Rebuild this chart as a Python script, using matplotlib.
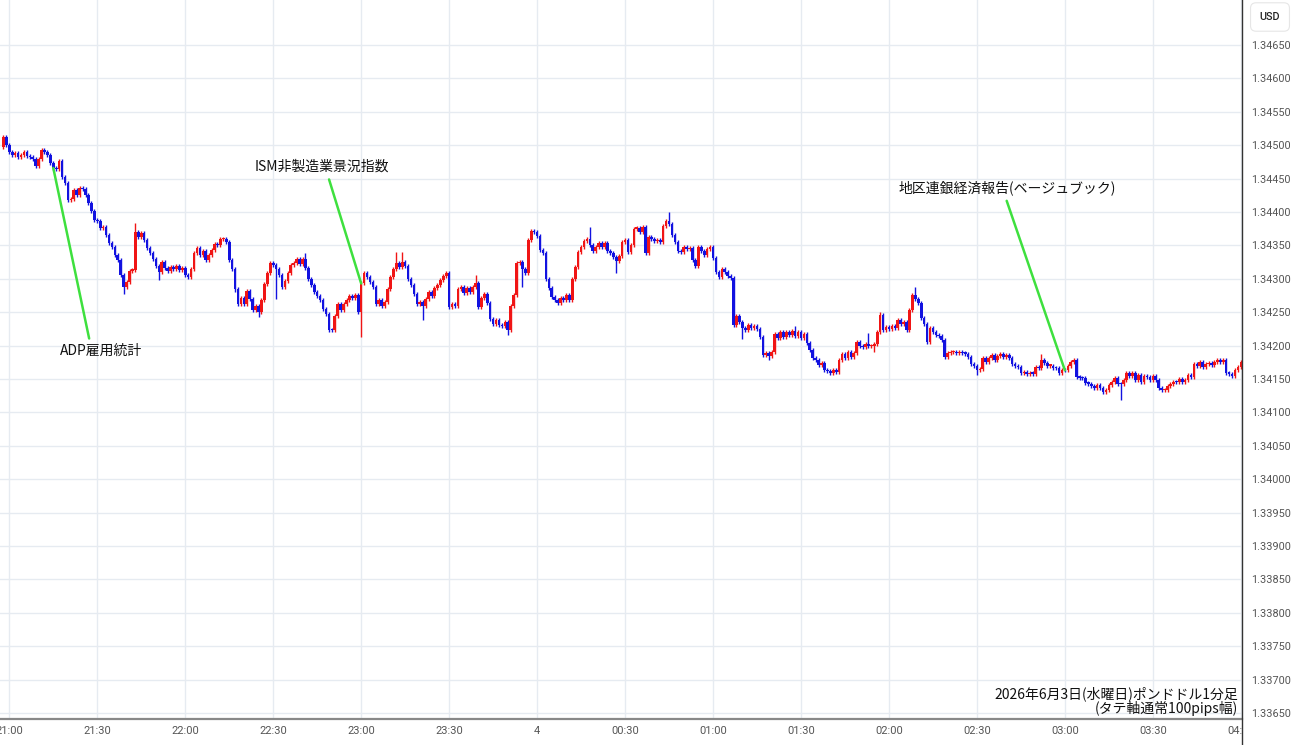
import numpy as np
import matplotlib.pyplot as plt
from matplotlib.lines import Line2D
from matplotlib.transforms import Bbox, TransformedBbox, blended_transform_factory

plt.rcParams['font.family'] = ['Noto Sans CJK JP', 'DejaVu Sans']

# GBP/USD 1-minute candles, price in pips above 1.34000
# minute 0 = 21:00, first candle 20:58
first_minute = -2
first_open = 49.8
closes = [
    51.2, 50.0, 49.0, 48.5, 48.9, 48.2, 48.6, 49.0, 48.4, 48.2,
    47.9, 46.9, 48.0, 49.3, 49.0, 48.5, 47.4, 46.6, 46.4, 47.7,
    45.2, 44.3, 41.8, 42.0, 43.3, 42.5, 43.6, 43.4, 42.6, 41.3,
    40.2, 38.8, 38.6, 37.6, 37.8, 36.5, 35.4, 34.8, 33.5, 32.8,
    30.5, 28.8, 29.5, 31.2, 31.3, 37.0, 36.2, 36.8, 35.8, 34.6,
    33.9, 33.0, 31.9, 31.0, 32.5, 31.6, 31.2, 31.8, 31.4, 31.9,
    31.3, 31.6, 30.6, 30.3, 31.5, 33.8, 34.6, 33.6, 34.2, 32.8,
    33.6, 34.3, 35.2, 35.0, 35.9, 36.0, 35.5, 32.8, 31.4, 28.4,
    26.3, 27.2, 26.2, 28.2, 27.0, 25.3, 25.9, 25.0, 26.8, 29.2,
    30.8, 32.3, 32.0, 31.5, 30.5, 28.8, 29.6, 30.8, 32.0, 32.4,
    33.0, 32.2, 33.0, 31.6, 30.0, 29.0, 28.0, 27.4, 26.8, 25.5,
    24.7, 22.4, 22.3, 24.5, 26.3, 25.4, 26.2, 26.8, 27.5, 27.2,
    27.6, 25.1, 29.3, 30.8, 30.2, 29.5, 28.8, 26.3, 26.8, 26.0,
    26.6, 28.5, 30.3, 31.5, 32.3, 31.8, 32.5, 31.9, 30.0, 29.0,
    27.8, 26.3, 26.6, 26.0, 27.0, 28.0, 27.4, 28.6, 29.1, 29.8,
    30.4, 30.8, 25.8, 26.2, 25.9, 28.5, 28.8, 27.9, 28.6, 28.0,
    28.7, 29.3, 25.8, 27.2, 27.8, 26.4, 24.0, 23.3, 23.9, 23.1,
    22.9, 23.6, 22.3, 26.0, 27.6, 32.3, 32.5, 31.4, 30.9, 35.8,
    37.2, 37.0, 36.4, 34.3, 33.8, 30.0, 28.6, 27.3, 26.8, 26.4,
    27.2, 26.8, 27.6, 26.9, 30.0, 31.8, 34.0, 34.8, 35.6, 35.9,
    35.0, 34.2, 34.8, 35.3, 34.8, 35.3, 34.2, 33.8, 33.2, 32.6,
    33.4, 35.5, 35.8, 34.0, 35.0, 37.5, 37.6, 37.0, 37.8, 33.8,
    36.2, 36.0, 35.6, 35.8, 35.5, 37.9, 38.6, 38.2, 36.6, 35.5,
    34.2, 34.0, 34.8, 34.4, 34.6, 32.8, 31.9, 34.8, 34.2, 33.6,
    34.4, 34.8, 33.1, 31.0, 30.3, 31.4, 31.0, 30.4, 30.1, 23.1,
    24.5, 23.6, 22.6, 22.3, 23.1, 22.6, 23.0, 22.5, 21.3, 18.6,
    18.9, 18.4, 19.0, 21.8, 21.2, 22.0, 21.3, 22.1, 21.6, 22.2,
    21.5, 22.0, 21.2, 21.8, 20.4, 19.3, 18.2, 17.8, 17.1, 17.4,
    16.3, 16.2, 15.9, 16.3, 16.0, 17.8, 18.8, 18.2, 19.0, 18.3,
    18.9, 20.6, 20.0, 19.8, 20.3, 19.9, 20.0, 20.2, 22.1, 24.6,
    22.3, 22.8, 22.5, 23.0, 22.6, 23.8, 23.2, 23.6, 22.3, 25.3,
    27.6, 27.0, 26.4, 24.1, 23.3, 20.6, 22.6, 22.0, 21.6, 21.4,
    20.8, 18.3, 18.9, 19.0, 19.1, 18.9, 19.1, 18.9, 18.8, 18.3,
    17.3, 17.0, 16.3, 16.5, 18.1, 17.6, 18.2, 18.6, 17.8, 18.4,
    18.8, 18.3, 18.6, 18.2, 17.3, 16.9, 16.8, 15.9, 16.0, 15.7,
    15.9, 15.8, 16.8, 16.6, 17.8, 17.4, 17.0, 17.0, 16.7, 16.6,
    15.9, 16.4, 16.3, 17.0, 17.6, 17.8, 15.3, 15.2, 15.1, 14.4,
    14.3, 14.0, 13.6, 14.1, 13.6, 13.1, 13.4, 14.1, 14.6, 15.1,
    14.3, 14.2, 14.8, 15.9, 15.4, 15.9, 14.8, 15.6, 14.6, 15.4,
    15.3, 14.9, 15.4, 14.8, 13.7, 13.3, 13.4, 13.9, 14.3, 14.6,
    14.5, 15.0, 14.6, 14.8, 15.6, 15.3, 17.3, 17.0, 17.6, 16.8,
    17.2, 17.4, 17.1, 17.6, 17.8, 17.6, 17.9, 15.9, 15.8, 15.5,
    16.3, 16.8, 17.5,
]
# notable wicks (minute: pips)
spike_high = {43: 38.3, 101: 33.8, 132: 34.0, 134: 34.0, 159: 30.6, 198: 37.8,
              225: 40.0, 268: 23.0, 293: 21.9, 297: 25.1, 309: 28.8, 352: 18.8, 412: 18.2}
spike_low = {39: 27.8, 51: 29.8, 85: 24.3, 91: 27.0, 120: 21.3, 141: 23.8, 170: 21.6,
             175: 28.8, 207: 30.8, 250: 21.0, 259: 17.8, 295: 19.0, 330: 15.6, 379: 11.9}

tick_minutes = [0, 30, 60, 90, 120, 150, 180, 210, 240, 270, 300, 330, 360, 390, 420]
tick_labels = ['21:00', '21:30', '22:00', '22:30', '23:00', '23:30', '4', '00:30',
               '01:00', '01:30', '02:00', '02:30', '03:00', '03:30', '04:00']
price_ticks = [1.33650 + 0.0005 * i for i in range(21)]

events = ['ADP雇用統計', 'ISM非製造業景況指数', '地区連銀経済報告(ベージュブック)']
event_minutes = [15, 120, 360]

base = 1.34
pip = 0.0001
c = np.array(closes)
o = np.concatenate([[first_open], c[:-1]])
t = np.arange(first_minute, first_minute + len(c))
hi = np.maximum(o, c) + 0.3
lo = np.minimum(o, c) - 0.3
for m, v in spike_high.items():
    hi[m - first_minute] = v
for m, v in spike_low.items():
    lo[m - first_minute] = v

up = c >= o
colors = np.where(up, '#f01515', '#1212e0')
body_bot = base + np.minimum(o, c) * pip
body_h = np.maximum(np.abs(c - o), 0.2) * pip

fig = plt.figure(figsize=(13, 7.45), dpi=100)
ax = fig.add_axes([0, 26 / 745, 1242 / 1300, 1 - 26 / 745])

ax.vlines(t, base + lo * pip, base + hi * pip, colors=colors, lw=1.0, zorder=3)
ax.bar(t, body_h, bottom=body_bot, width=0.9, color=colors, linewidth=0, zorder=3)

ax.set_xlim(-3.17, 420.4)
ax.set_ylim(1.336410, 1.347174)
ax.set_xticks(tick_minutes)
ax.set_xticklabels([])
ax.set_yticks(price_ticks)
ax.yaxis.tick_right()
ax.set_yticklabels(['%.5f' % p for p in price_ticks], fontsize=7.8, color='#555555',
                   family='Roboto')
ax.tick_params(axis='both', length=0)
ax.tick_params(axis='y', pad=6.5)
ax.grid(True, color='#e6ebf1', lw=1, zorder=0)
ax.set_axisbelow(True)
for s in ['top', 'left', 'right']:
    ax.spines[s].set_visible(False)
ax.spines['bottom'].set_color('#888888')
ax.spines['bottom'].set_linewidth(1.6)

# time labels, clipped at the price axis
tr = blended_transform_factory(ax.transData, fig.transFigure)
clip = TransformedBbox(Bbox.from_extents(0, 0, 1243 / 1300, 1), fig.transFigure)
for m, lab in zip(tick_minutes, tick_labels):
    txt = fig.text(m, 14 / 745, lab, transform=tr, ha='center', va='center',
                   fontsize=8, color='#555555', family='Roboto')
    txt.set_clip_on(True)
    txt.set_clip_box(clip)

fig.add_artist(Line2D([1242 / 1300, 1242 / 1300], [0, 1], transform=fig.transFigure,
                      color='#333333', lw=1))
fig.text(1270 / 1300, 1 - 17 / 745, 'USD', ha='center', va='center', fontsize=7.8,
         family='Roboto', fontweight='medium', color='#222222',
         bbox=dict(boxstyle='round,pad=0.85,rounding_size=0.5', fc='white', ec='#e6e6e6', lw=0.8))

# event annotations
green = '#3ee03e'
text_pos = [(101, 394), (322, 578), (1007, 557)]
rel = [(0.37, 1.0), (0.54, 0.0), (0.49, 0.0)]
for lab, m, pos, rp in zip(events, event_minutes, text_pos, rel):
    y = base + c[m - first_minute] * pip
    ax.annotate(lab, xy=(m, y), xytext=pos, textcoords='figure pixels',
                ha='center', va='center', fontsize=10, color='#111111',
                arrowprops=dict(arrowstyle='-', color=green, lw=1.8,
                                shrinkA=2, shrinkB=0, relpos=rp), zorder=5)

fig.text(1238 / 1300, 1 - 694 / 745, '2026年6月3日(水曜日)ポンドドル1分足', ha='right',
         va='center', fontsize=10, color='#111111')
fig.text(1238 / 1300, 1 - 708 / 745, '(タテ軸通常100pips幅)', ha='right',
         va='center', fontsize=10, color='#111111')

fig.savefig('out.png', dpi=100)
